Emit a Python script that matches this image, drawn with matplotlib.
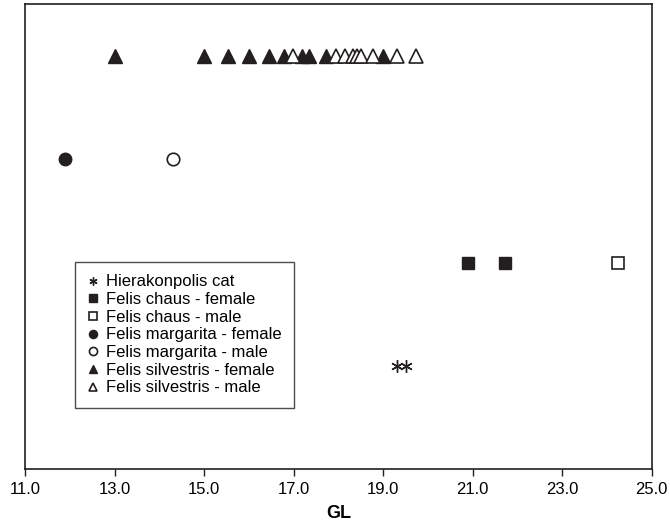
import matplotlib
matplotlib.use("Agg")
import matplotlib.pyplot as plt

plt.rcParams['font.family'] = ['Liberation Sans', 'DejaVu Sans']

# Data (GL values)
hierakonpolis = [19.3, 19.5]
chaus_female = [20.9, 21.72]
chaus_male = [24.25]
margarita_female = [11.89]
margarita_male = [14.31]
silvestris_female = [13.0, 15.0, 15.53, 16.0, 16.46, 16.78, 17.18, 17.35, 17.73, 19.0]
silvestris_male = [16.98, 17.95, 18.15, 18.33, 18.42, 18.51, 18.78, 19.3, 19.74]

x_ticks = [11.0, 13.0, 15.0, 17.0, 19.0, 21.0, 23.0, 25.0]
x_label = "GL"

fig = plt.figure(figsize=(6.7, 5.32), dpi=100)
ax = fig.add_axes([0.0373, 0.1175, 0.9355, 0.875])

ms = 8.5
ax.plot(hierakonpolis, [1] * len(hierakonpolis), linestyle='none', marker=(6, 2, 0),
        markersize=9, color='#231f20', markeredgewidth=1.0, label='Hierakonpolis cat')
ax.plot(chaus_female, [2] * len(chaus_female), linestyle='none', marker='s', markersize=ms,
        color='#231f20', label='Felis chaus - female')
ax.plot(chaus_male, [2] * len(chaus_male), linestyle='none', marker='s', markersize=ms,
        markerfacecolor='white', markeredgecolor='#231f20', markeredgewidth=1.2,
        label='Felis chaus - male')
ax.plot(margarita_female, [3] * len(margarita_female), linestyle='none', marker='o', markersize=9,
        color='#231f20', label='Felis margarita - female')
ax.plot(margarita_male, [3] * len(margarita_male), linestyle='none', marker='o', markersize=9,
        markerfacecolor='white', markeredgecolor='#231f20', markeredgewidth=1.2,
        label='Felis margarita - male')
ax.plot(silvestris_female, [4] * len(silvestris_female), linestyle='none', marker='^', markersize=9.5,
        color='#231f20', label='Felis silvestris - female')
ax.plot(silvestris_male, [4] * len(silvestris_male), linestyle='none', marker='^', markersize=9.5,
        markerfacecolor='white', markeredgecolor='#231f20', markeredgewidth=1.2,
        label='Felis silvestris - male')

ax.set_xlim(11, 25)
ax.set_ylim(0, 4.5)
ax.set_xticks(x_ticks)
ax.set_xticklabels([f"{v:.1f}" for v in x_ticks], fontsize=12)
ax.set_yticks([])
ax.tick_params(axis='x', direction='out', length=5, width=1, color='#231f20', pad=4)
for s in ax.spines.values():
    s.set_linewidth(1.2)
    s.set_color('#231f20')
ax.set_xlabel(x_label, fontsize=13, fontweight='bold', labelpad=6)

leg = ax.legend(loc='upper left', bbox_to_anchor=(0.08, 0.446), borderaxespad=0,
                fontsize=12, frameon=True, fancybox=False, edgecolor='#231f20',
                handlelength=0.7, handletextpad=0.4, markerscale=0.65,
                borderpad=0.75, labelspacing=0.16)
leg.get_frame().set_linewidth(1.0)

fig.savefig("out.png", dpi=100)
